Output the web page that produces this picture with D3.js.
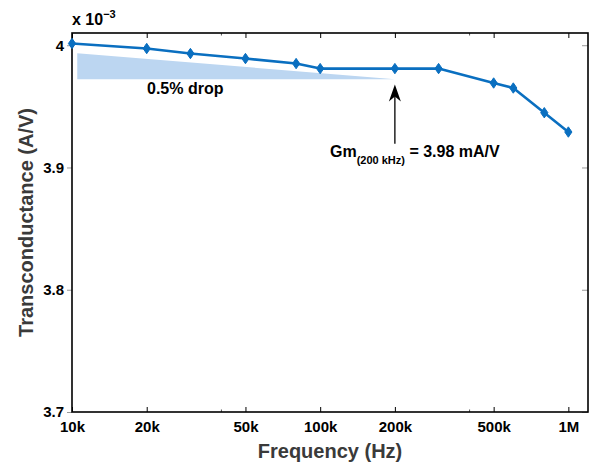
<!DOCTYPE html>
<html>
<head>
<meta charset="utf-8">
<script src="https://cdn.jsdelivr.net/npm/d3@7"></script>
<style>
  body { margin: 0; background: #fff; }
  text { font-family: "Liberation Sans", Arial, sans-serif; font-weight: bold; }
</style>
</head>
<body>
<div id="chart"></div>
<script>
// measured points (frequency in Hz, transconductance in 1e-3 A/V)
var freqs = [1e4, 2e4, 3e4, 5e4, 8e4, 1e5, 2e5, 3e5, 5e5, 6e5, 8e5, 1e6];
var gm = [4.0014, 3.9973, 3.9932, 3.9891, 3.9850, 3.9809, 3.9809, 3.9809, 3.9691, 3.9650, 3.9448, 3.9290];

var xTicks = [1e4, 2e4, 5e4, 1e5, 2e5, 5e5, 1e6];
var xTickLabels = ["10k", "20k", "50k", "100k", "200k", "500k", "1M"];
var xMinorTicks = [4e4, 4e5];
var yTicks = [3.7, 3.8, 3.9, 4.0];
var yTickLabels = ["3.7", "3.8", "3.9", "4"];

// shaded "0.5% drop" wedge and the arrow pointing at 200 kHz
var dropFreq = [1.05e4, 2e5, 1.05e4];
var dropGm = [3.9935, 3.9722, 3.9722];
var arrowFreq = 2e5;
var arrowGm = [3.9679, 3.9195];

(function () {

    var margin = { top: 33, right: 4, bottom: 53, left: 72 },
        width = 592 - margin.left - margin.right,
        height = 465 - margin.top - margin.bottom;

    var svg = d3.select("#chart")
        .append("svg")
        .attr("width", width + margin.left + margin.right)
        .attr("height", height + margin.top + margin.bottom)
        .append("g")
        .attr("transform", "translate(" + margin.left + "," + margin.top + ")");

    var x = d3.scaleLog().domain([1e4, 1.2e6]).range([0, width]);
    var y = d3.scaleLinear().domain([3.7, 4.01]).range([height, 0]);

    // shaded wedge
    svg.append("path")
        .attr("d", d3.line()(dropFreq.map(function (f, i) { return [x(f), y(dropGm[i])]; })) + "Z")
        .style("fill", "#bcd6f1")
        .style("stroke", "none");

    // bottom axis, ticks pointing in
    var xAxis = svg.append("g")
        .attr("transform", "translate(0," + height + ")")
        .call(d3.axisBottom(x).tickValues(xTicks)
            .tickFormat(function (d, i) { return xTickLabels[i]; })
            .tickSize(-5).tickPadding(9));
    xAxis.selectAll("text").style("font-size", "15px").style("fill", "#000");

    // top axis, ticks only
    svg.append("g")
        .call(d3.axisTop(x).tickValues(xTicks).tickFormat("").tickSize(-5));

    // minor ticks
    xMinorTicks.forEach(function (f) {
        svg.append("line").attr("x1", x(f)).attr("x2", x(f))
            .attr("y1", height).attr("y2", height - 2.5).style("stroke", "#555");
        svg.append("line").attr("x1", x(f)).attr("x2", x(f))
            .attr("y1", 0).attr("y2", 2.5).style("stroke", "#555");
    });

    // left axis
    var yAxis = svg.append("g")
        .call(d3.axisLeft(y).tickValues(yTicks)
            .tickFormat(function (d, i) { return yTickLabels[i]; })
            .tickSize(5).tickPadding(3));
    yAxis.selectAll("text").style("font-size", "15px").style("fill", "#000");
    yAxis.selectAll(".tick line").style("stroke", "#999");

    // right axis ticks
    svg.append("g")
        .attr("transform", "translate(" + width + ",0)")
        .call(d3.axisRight(y).tickValues(yTicks).tickFormat("").tickSize(-6))
        .selectAll(".tick line").style("stroke", "#999");

    svg.selectAll(".domain").remove();

    // box
    svg.append("rect")
        .attr("width", width).attr("height", height)
        .style("fill", "none").style("stroke", "#000").style("stroke-width", 1.6);

    // data line
    var line = d3.line()
        .x(function (d) { return x(d[0]); })
        .y(function (d) { return y(d[1]); });
    var pts = freqs.map(function (f, i) { return [f, gm[i]]; });

    svg.append("path")
        .datum(pts)
        .attr("d", line)
        .style("fill", "none")
        .style("stroke", "#0a6fc0")
        .style("stroke-width", 2.6)
        .style("stroke-linejoin", "round");

    svg.append("g")
        .selectAll("path")
        .data(pts)
        .enter()
        .append("path")
        .attr("transform", function (d) { return "translate(" + x(d[0]) + "," + y(d[1]) + ")"; })
        .attr("d", "M0,-5.2L3.6,0L0,5.2L-3.6,0Z")
        .style("fill", "#0a6fc0")
        .style("stroke", "#0a6fc0")
        .style("stroke-width", 1);

    // arrow
    var ax = x(arrowFreq), ay0 = y(arrowGm[0]), ay1 = y(arrowGm[1]);
    svg.append("line")
        .attr("x1", ax).attr("x2", ax).attr("y1", ay0 + 8).attr("y2", ay1)
        .style("stroke", "#000").style("stroke-width", 1.3);
    svg.append("path")
        .attr("transform", "translate(" + ax + "," + ay0 + ")")
        .attr("d", "M0,0L6,17L0,12L-6,17Z")
        .style("fill", "#000");

    // texts
    svg.append("text")
        .attr("x", 147 - margin.left).attr("y", 94 - margin.top)
        .style("font-size", "16px")
        .text("0.5% drop");

    var gmText = svg.append("text")
        .attr("x", 330 - margin.left).attr("y", 157 - margin.top)
        .style("font-size", "16px");
    gmText.append("tspan").text("Gm");
    gmText.append("tspan").attr("dy", 7).style("font-size", "11px").text("(200 kHz)");
    gmText.append("tspan").attr("dy", -7).text(" = 3.98 mA/V");

    var expText = svg.append("text")
        .attr("x", 0).attr("y", 25 - margin.top)
        .style("font-size", "16px");
    expText.append("tspan").text("x 10");
    expText.append("tspan").attr("dy", -7).style("font-size", "11px").text("\u22123");

    // axis labels
    svg.append("text")
        .attr("text-anchor", "middle")
        .attr("x", width / 2)
        .attr("y", height + 46)
        .style("font-size", "20px")
        .style("fill", "#3a3a3a")
        .text("Frequency (Hz)");

    svg.append("text")
        .attr("text-anchor", "middle")
        .attr("transform", "rotate(-90)")
        .attr("x", -height / 2)
        .attr("y", -39)
        .style("font-size", "20px")
        .style("fill", "#3a3a3a")
        .text("Transconductance (A/V)");

})();
</script>
</body>
</html>
